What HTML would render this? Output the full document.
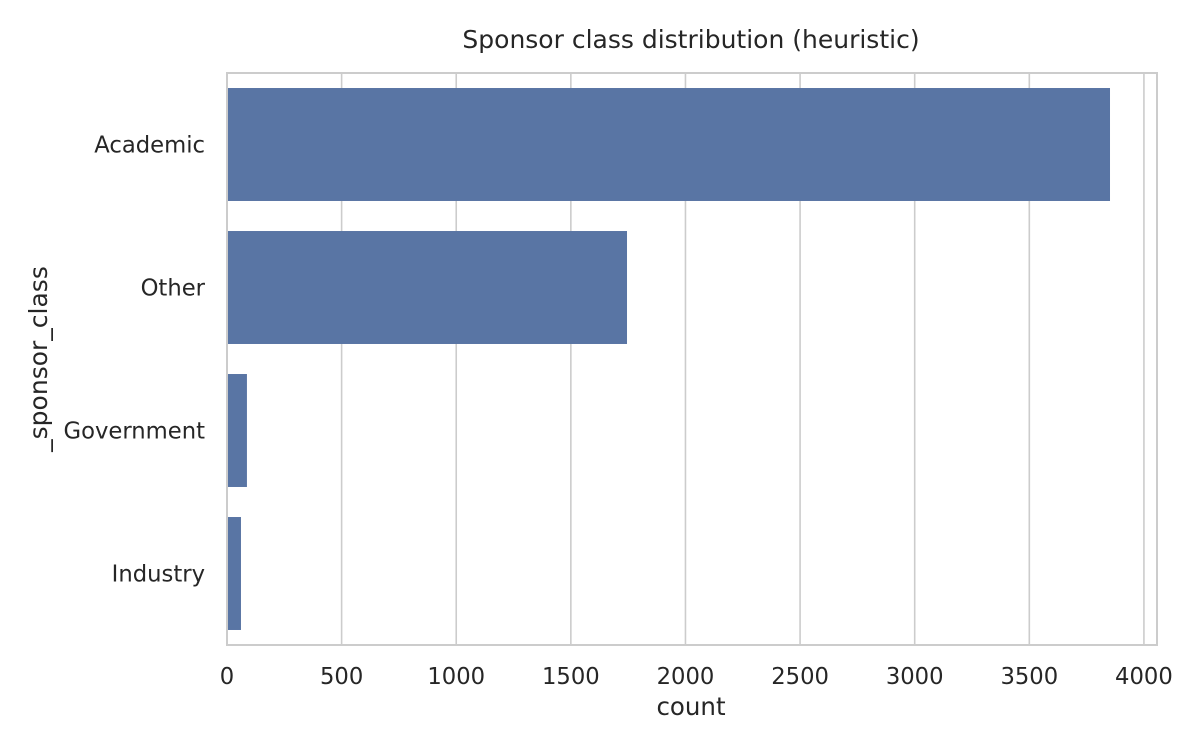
<!DOCTYPE html>
<html><head><meta charset="utf-8"><style>
body{margin:0;background:#fff;}
svg text{font-family:"DejaVu Sans","Liberation Sans",sans-serif;fill:#262626;}
</style></head><body>
<svg id="chart" width="1200" height="750"></svg>
<script>
const categories = ["Academic","Other","Government","Industry"];
const counts = [3852, 1745, 87, 61];
const ticks = [0,500,1000,1500,2000,2500,3000,3500,4000];
const tickLabels = ["0","500","1000","1500","2000","2500","3000","3500","4000"];
const xMax = 4057;

const NS="http://www.w3.org/2000/svg";
const svg=document.getElementById('chart');
const L=227,R=1157,T=73,B=645;
const x=v=>L+(v/xMax)*(R-L);
const band=(B-T)/categories.length;
const yc=i=>T+band*(i+0.5);
function mk(tag,attrs,parent){const e=document.createElementNS(NS,tag);for(const k in attrs)e.setAttribute(k,attrs[k]);(parent||svg).appendChild(e);return e;}

const title=mk('text',{x:691,y:48,'text-anchor':'middle','font-size':25});
title.textContent="Sponsor class distribution (heuristic)";



ticks.forEach((t,i)=>{
  const g=mk('line',{x1:x(t),x2:x(t),y1:T,y2:B,stroke:'#cccccc','stroke-width':1.6});
  
  
  const tl=mk('text',{x:x(t),y:684,'text-anchor':'middle','font-size':22.7});
  tl.textContent=tickLabels[i];
  
  
});

categories.forEach((c,i)=>{
  const h=band*0.79;
  const r=mk('rect',{x:x(0),y:yc(i)-h/2,width:x(counts[i])-x(0),height:h,fill:'#5975a4'});
  
  
  const lb=mk('text',{x:205,y:yc(i)+8,'text-anchor':'end','font-size':22.7});
  lb.textContent=c;
  
  
});

const frame=mk('rect',{x:L,y:T,width:R-L,height:B-T,fill:'none',stroke:'#cccccc','stroke-width':2});



const xt=mk('text',{x:691,y:715,'text-anchor':'middle','font-size':24.5});
xt.textContent="count";



const yt=mk('text',{x:0,y:0,'text-anchor':'middle','font-size':25,transform:'translate(47,359) rotate(-90)'});
yt.textContent="_sponsor_class";


</script>
</body></html>
